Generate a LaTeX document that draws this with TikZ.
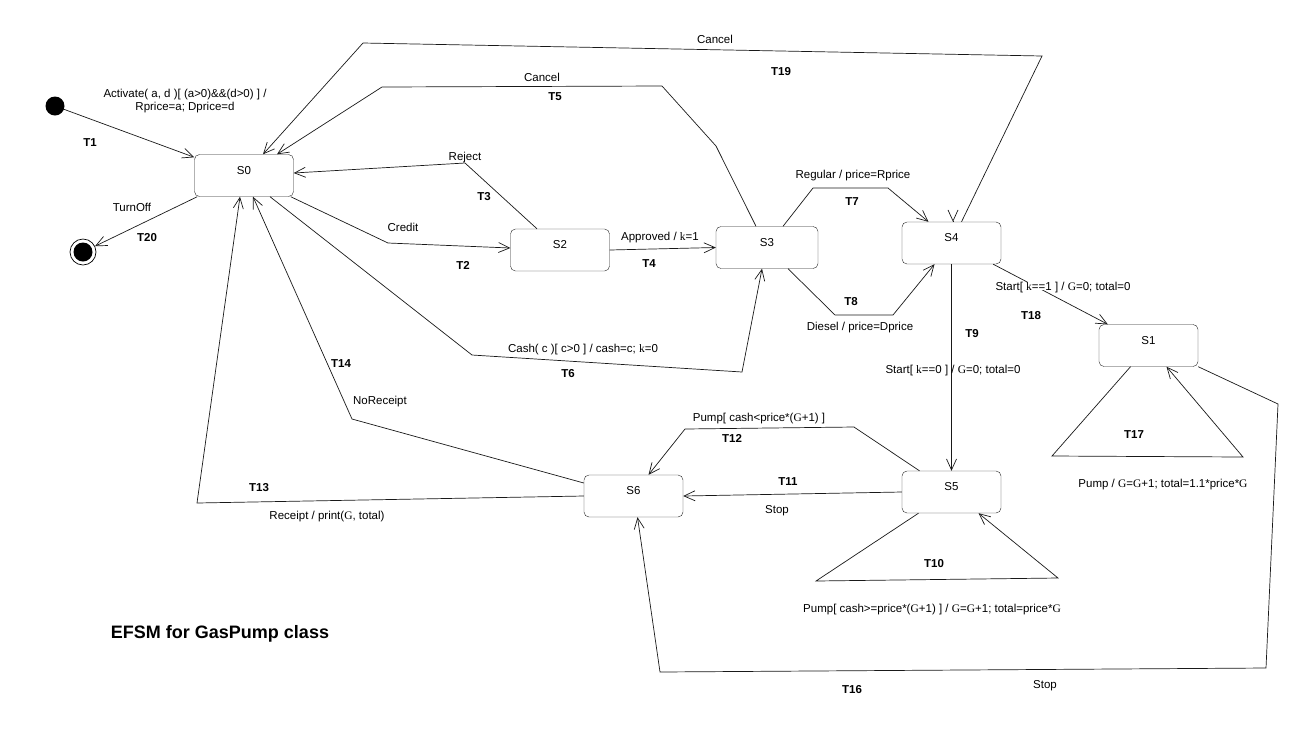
\documentclass[tikz,border=0pt]{standalone}
\usepackage{fontspec}
\setmainfont{Liberation Sans}
\newfontfamily\varfont{Liberation Serif}
\usetikzlibrary{arrows.meta}
\newcommand{\vk}{{\varfont k}}
\newcommand{\vG}{{\varfont G}}

\begin{document}
\begin{tikzpicture}[x=1pt,y=-1pt,
		state/.style={draw=black!85,rounded corners=5pt,minimum width=99pt,minimum height=42pt,text height=8pt,text depth=11pt},
		lbl/.style={text height=8pt,text depth=0pt},
		tlbl/.style={lbl,font=\fontsize{11.5}{13}\selectfont\bfseries},
		trans/.style={black!90,line width=0.7pt,-{Straight Barb[length=11pt,width=10pt]}}]
		\tikzstyle{every node}+=[inner sep=0pt,font=\fontsize{11.5}{13}\selectfont]
		\useasboundingbox (0,0) rectangle (1303,732);
		\node [state] (S0) at (244,175.5) {S0};
		\node [state] (S2) at (560,250) {S2};
		\node [state,minimum width=102pt] (S3) at (767,247.5) {S3};
		\node [state] (S4) at (951.5,243) {S4};
		\node [state] (S1) at (1148.5,345.5) {S1};
		\node [state] (S5) at (951.5,492) {S5};
		\node [state] (S6) at (633.5,496) {S6};
		\node [circle,fill=black,minimum size=19pt] (init) at (55,106) {};
		\node [circle,draw=black,line width=0.7pt,minimum size=26pt] (fin) at (83,252) {};
		\node [circle,fill=black,minimum size=19pt] (finDot) at (fin) {};
		\draw [trans] (init) -- ([yshift=-3pt]S0.north west);
		\node [align=center] (lActivate) at (185,101.5) {Activate( a, d )[ (a>0)\&\&(d>0) ] /\\Rprice=a; Dprice=d};
		\node [tlbl] (lT1) at (90,142) {T1};
		\draw [trans] ([xshift=3pt]S0.south west) -- (fin);
		\node [lbl] (lTurnOff) at (132,207) {TurnOff};
		\node [tlbl] (lT20) at (147,237) {T20};
		\draw [trans] ([xshift=-3pt]S0.south east) -- (388,243) -- ([yshift=2pt]S2.west);
		\node [lbl] (lCredit) at (403,227) {Credit};
		\node [tlbl] (lT2) at (463,265) {T2};
		\draw [trans] ([xshift=-23pt]S2.north) -- (465,163) -- ([yshift=2.5pt]S0.east);
		\node [lbl] (lReject) at (465,156) {Reject};
		\node [tlbl] (lT3) at (484,196) {T3};
		\draw [trans] (S2.east) -- (S3.west);
		\node [lbl] (lApproved) at (660,236) {Approved / \vk=1};
		\node [tlbl] (lT4) at (649,263) {T4};
		\draw [trans] ([xshift=-11pt]S3.north) -- (716,146) -- (662,86) -- (382,87) -- ([xshift=33pt]S0.north);
		\node [lbl] (lCancelA) at (542,77) {Cancel};
		\node [tlbl] (lT5) at (555,96) {T5};
		\draw [trans] ([xshift=26pt]S0.south) -- (472,355) -- (742,372) -- ([xshift=-5pt]S3.south);
		\node [lbl] (lCash) at (583,348) {Cash( c )[ c>0 ] / cash=c; \vk=0};
		\node [tlbl] (lT6) at (568,373) {T6};
		\draw [trans] ([xshift=16pt]S3.north) -- (813,188) -- (888,188) -- ([xshift=-23pt]S4.north);
		\node [lbl] (lRegular) at (853,174) {Regular / price=Rprice};
		\node [tlbl] (lT7) at (852,201) {T7};
		\draw [trans] ([xshift=21pt]S3.south) -- (835,315) -- (893,315) -- ([xshift=-17pt]S4.south);
		\node [tlbl] (lT8) at (851,301) {T8};
		\node [lbl] (lDiesel) at (860,326) {Diesel / price=Dprice};
		\draw [trans] (S4.south) -- (S5.north);
		\node [tlbl] (lT9) at (972,333) {T9};
		\node [lbl] (lStartA) at (953,369) {Start[ \vk==0 ] / \vG=0; total=0};
		\draw [trans] ([xshift=-33pt]S5.south) -- (816,581) -- (1058,578) -- ([xshift=27pt]S5.south);
		\node [tlbl] (lT10) at (934,563) {T10};
		\node [lbl] (lPumpA) at (932,608) {Pump[ cash>=price*(\vG+1) ] / \vG=\vG+1; total=price*\vG};
		\draw [trans] (S5.west) -- (S6.east);
		\node [tlbl] (lT11) at (788,481) {T11};
		\node [lbl] (lStopA) at (777,509) {Stop};
		\draw [trans] ([xshift=-32pt]S5.north) -- (854,427) -- (685,429) -- ([xshift=15pt]S6.north);
		\node [lbl] (lPumpB) at (759,417) {Pump[ cash<price*(\vG+1) ]};
		\node [tlbl] (lT12) at (732,438) {T12};
		\draw [trans] (S6.west) -- (197,503) -- ([xshift=-4pt]S0.south);
		\node [tlbl] (lT13) at (259,487) {T13};
		\node [lbl] (lReceipt) at (327,515) {Receipt / print(\vG, total)};
		\draw [trans] ([yshift=13pt]S6.west) -- (352,419) -- ([xshift=9pt]S0.south);
		\node [tlbl] (lT14) at (341,363) {T14};
		\node [lbl] (lNoReceipt) at (380,400) {NoReceipt};
		\draw [trans] (S1.south east) -- (1278,404) -- (1266,668) -- (660,672) -- ([xshift=4pt]S6.south);
		\node [tlbl] (lT16) at (852,689) {T16};
		\node [lbl] (lStopB) at (1045,684) {Stop};
		\draw [trans] ([xshift=-18pt]S1.south) -- (1052,456) -- (1243,457) -- ([xshift=18pt]S1.south);
		\node [tlbl] (lT17) at (1134,434) {T17};
		\node [lbl] (lPumpC) at (1163,483) {Pump / \vG=\vG+1; total=1.1*price*\vG};
		\draw [trans] ([xshift=-8pt]S4.south east) -- ([xshift=9pt]S1.north west);
		\node [lbl,fill=white,inner xsep=2pt] (lStartB) at (1063,286) {Start[ \vk==1 ] / \vG=0; total=0};
		\node [tlbl] (lT18) at (1031,315) {T18};
		\draw [trans] ([xshift=10pt]S4.north) -- (1042,56) -- (363,43) -- ([xshift=19pt]S0.north);
		\draw [trans] ([xshift=1.5pt,yshift=1pt]S4.north) -- ([xshift=1.5pt]S4.north);
		\node [lbl] (lCancelB) at (715,39) {Cancel};
		\node [tlbl] (lT19) at (781,71) {T19};
		\node [font=\fontsize{18}{20}\selectfont\bfseries,text height=13pt,text depth=0pt] (title) at (220,632) {EFSM for GasPump class};
	\end{tikzpicture}
\end{document}
